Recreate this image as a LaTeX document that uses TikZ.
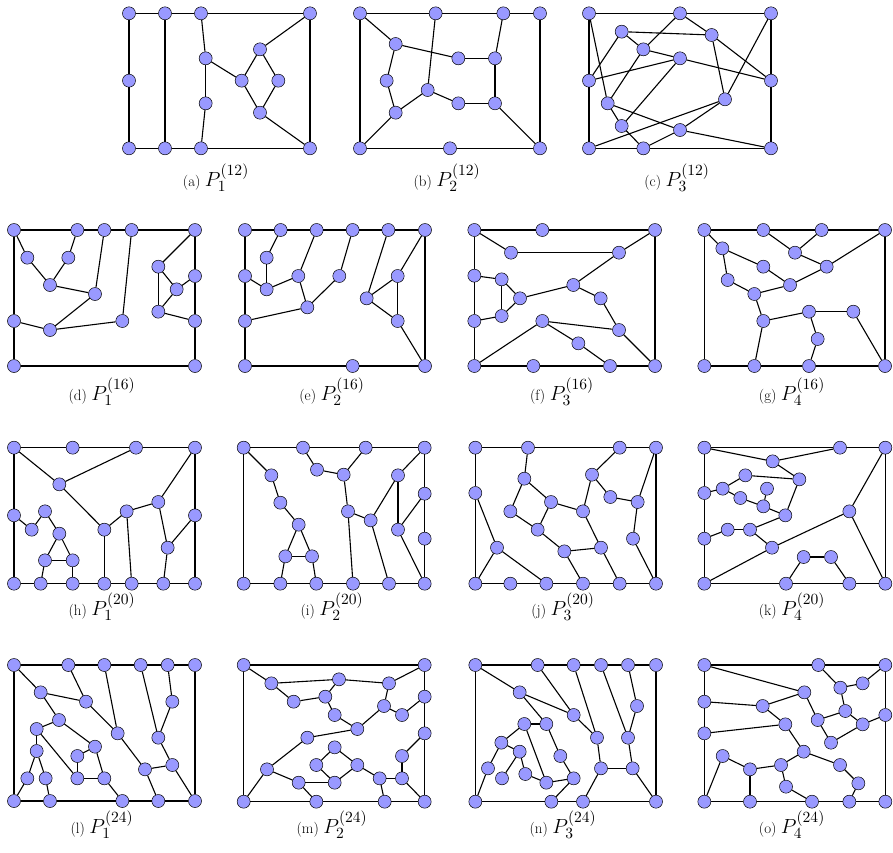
\documentclass[tikz,border=0pt]{standalone}
\definecolor{vfill}{RGB}{153,153,255}
\tikzset{
  vx/.style={circle,draw=black,fill=vfill,line width=0.5pt,minimum size=13pt,inner sep=0pt},
  ed/.style={line width=1.1pt},
  pnl/.style={x=0.33333pt,y=-0.33333pt},
  captxt/.style={anchor=base,inner sep=0pt}
}
\newcommand\vtx[3]{\node[vx] (#1) at (#2,#3) {};}
\newcommand\edges[1]{\foreach \u/\w in {#1} {\draw[ed] (\u)--(\w);}}
\newcommand\capP[3]{\fontsize{15}{18}\selectfont(#1)\hspace{0.3em}\scalebox{1.42}{$P_{#2}^{(#3)}$}}
\begin{document}
\begin{tikzpicture}[x=1pt,y=-1pt]
\useasboundingbox (0,0) rectangle (893,852);
% ---------- (a)
\begin{scope}[shift={(115pt,0pt)},pnl]
\vtx{a1}{42}{40}\vtx{a2}{150}{40}\vtx{a3}{258}{40}\vtx{a4}{585}{40}
\vtx{a5}{42}{242}\vtx{a6}{42}{445}\vtx{a7}{150}{445}\vtx{a8}{258}{445}\vtx{a9}{585}{445}
\vtx{a10}{272}{175}\vtx{a11}{272}{310}\vtx{a12}{380}{242}\vtx{a13}{435}{148}\vtx{a14}{490}{242}\vtx{a15}{435}{338}
\edges{a1/a2,a2/a3,a3/a4,a4/a9,a9/a8,a8/a7,a7/a6,a6/a5,a5/a1,a2/a7,a3/a10,a10/a11,a11/a8,a10/a12,a12/a13,a12/a15,a13/a14,a14/a15,a13/a4,a15/a9}
\end{scope}
% ---------- (b)
\begin{scope}[shift={(115pt,0pt)},pnl]
\vtx{b1}{735}{40}\vtx{b2}{962}{40}\vtx{b3}{1165}{40}\vtx{b4}{1275}{40}
\vtx{b5}{735}{445}\vtx{b6}{1005}{445}\vtx{b7}{1275}{445}
\vtx{b8}{842}{132}\vtx{b9}{815}{242}\vtx{b10}{842}{338}\vtx{b11}{938}{270}
\vtx{b12}{1030}{175}\vtx{b13}{1140}{175}\vtx{b14}{1030}{310}\vtx{b15}{1140}{310}
\edges{b1/b2,b2/b3,b3/b4,b4/b7,b7/b6,b6/b5,b5/b1,b1/b8,b8/b9,b9/b10,b10/b5,b8/b12,b12/b13,b13/b3,b13/b15,b2/b11,b10/b11,b11/b14,b14/b15,b15/b7}
\end{scope}
% ---------- (c)
\begin{scope}[shift={(575pt,0pt)},pnl]
\vtx{c1}{42}{40}\vtx{c2}{315}{40}\vtx{c3}{588}{40}\vtx{c4}{42}{242}\vtx{c5}{588}{242}
\vtx{c6}{42}{445}\vtx{c7}{205}{445}\vtx{c8}{588}{445}
\vtx{c9}{140}{95}\vtx{c10}{410}{105}\vtx{c11}{205}{148}\vtx{c12}{315}{175}
\vtx{c13}{98}{310}\vtx{c14}{450}{298}\vtx{c15}{140}{378}\vtx{c16}{315}{390}
\edges{c1/c2,c2/c3,c3/c5,c5/c8,c8/c7,c7/c6,c6/c4,c4/c1,c1/c13,c9/c10,c9/c4,c9/c11,c11/c2,c11/c13,c11/c12,c12/c5,c4/c12,c12/c15,c2/c10,c10/c5,c10/c14,c14/c3,c14/c6,c14/c16,c16/c7,c13/c16,c16/c8,c13/c15,c15/c7}
\end{scope}
% ---------- (d)
\begin{scope}[shift={(0pt,-215pt)},pnl]
\vtx{d1}{42}{45}\vtx{d2}{232}{45}\vtx{d3}{313}{45}\vtx{d4}{395}{45}\vtx{d5}{585}{45}
\vtx{d6}{42}{318}\vtx{d7}{585}{183}\vtx{d8}{585}{318}\vtx{d9}{42}{453}\vtx{d10}{585}{453}
\vtx{d11}{82}{128}\vtx{d12}{205}{128}\vtx{d13}{150}{210}\vtx{d14}{285}{237}\vtx{d15}{150}{345}
\vtx{d16}{367}{318}\vtx{d17}{475}{155}\vtx{d18}{530}{223}\vtx{d19}{475}{290}
\edges{d1/d2,d2/d3,d3/d4,d4/d5,d5/d7,d7/d8,d8/d10,d10/d9,d9/d6,d6/d1,d1/d11,d11/d13,d13/d12,d12/d2,d13/d14,d14/d3,d14/d15,d15/d6,d15/d16,d16/d4,d5/d17,d17/d19,d17/d18,d18/d7,d18/d19,d19/d8}
\end{scope}
% ---------- (e)
\begin{scope}[shift={(0pt,-215pt)},pnl]
\vtx{e1}{735}{45}\vtx{e2}{842}{45}\vtx{e3}{950}{45}\vtx{e4}{1058}{45}\vtx{e5}{1165}{45}\vtx{e6}{1275}{45}
\vtx{e7}{735}{183}\vtx{e8}{735}{318}\vtx{e9}{735}{453}\vtx{e10}{1058}{453}\vtx{e11}{1275}{453}
\vtx{e12}{800}{128}\vtx{e13}{800}{223}\vtx{e14}{895}{183}\vtx{e15}{1018}{183}\vtx{e16}{922}{277}
\vtx{e17}{1100}{250}\vtx{e18}{1193}{183}\vtx{e19}{1193}{318}
\edges{e1/e2,e2/e3,e3/e4,e4/e5,e5/e6,e6/e11,e11/e10,e10/e9,e9/e8,e8/e7,e7/e1,e2/e12,e12/e13,e7/e13,e13/e14,e14/e3,e14/e16,e16/e15,e15/e4,e16/e8,e5/e17,e17/e18,e17/e19,e18/e19,e18/e6,e19/e11}
\end{scope}
% ---------- (f)
\begin{scope}[shift={(455pt,-215pt)},pnl]
\vtx{f1}{58}{45}\vtx{f2}{262}{45}\vtx{f3}{600}{45}\vtx{f4}{58}{182}\vtx{f5}{58}{318}
\vtx{f6}{58}{453}\vtx{f7}{235}{453}\vtx{f8}{465}{453}\vtx{f9}{600}{453}
\vtx{f10}{168}{113}\vtx{f11}{492}{113}\vtx{f12}{140}{193}\vtx{f13}{195}{250}\vtx{f14}{140}{303}
\vtx{f15}{355}{210}\vtx{f16}{437}{250}\vtx{f17}{262}{318}\vtx{f18}{492}{345}\vtx{f19}{370}{385}
\edges{f1/f2,f2/f3,f3/f9,f9/f8,f8/f7,f7/f6,f6/f5,f5/f4,f4/f1,f1/f10,f10/f11,f11/f3,f11/f15,f15/f13,f15/f16,f16/f18,f18/f9,f17/f18,f17/f19,f19/f8,f17/f6,f4/f12,f12/f13,f12/f14,f13/f14,f14/f5}
\end{scope}
% ---------- (g)
\begin{scope}[shift={(455pt,-215pt)},pnl]
\vtx{g1}{748}{45}\vtx{g2}{925}{45}\vtx{g3}{1100}{45}\vtx{g4}{1290}{45}
\vtx{g5}{748}{453}\vtx{g6}{898}{453}\vtx{g7}{1062}{453}\vtx{g8}{1290}{453}
\vtx{g9}{802}{100}\vtx{g10}{1020}{113}\vtx{g11}{925}{155}\vtx{g12}{1115}{155}\vtx{g13}{818}{195}
\vtx{g14}{1005}{210}\vtx{g15}{898}{237}\vtx{g16}{925}{318}\vtx{g17}{1062}{290}\vtx{g18}{1195}{290}\vtx{g19}{1088}{372}
\edges{g1/g2,g2/g3,g3/g4,g4/g8,g8/g7,g7/g6,g6/g5,g5/g1,g1/g9,g9/g11,g11/g14,g14/g12,g12/g4,g12/g10,g10/g2,g10/g3,g9/g13,g13/g15,g15/g14,g15/g16,g16/g17,g16/g6,g17/g18,g18/g8,g17/g19,g19/g7}
\end{scope}
% ---------- (h)
\begin{scope}[shift={(0pt,-432pt)},pnl]
\vtx{h1}{42}{47}\vtx{h2}{218}{47}\vtx{h3}{408}{47}\vtx{h4}{585}{47}\vtx{h5}{42}{250}\vtx{h6}{585}{250}
\vtx{h7}{42}{455}\vtx{h8}{122}{455}\vtx{h9}{218}{455}\vtx{h10}{313}{455}\vtx{h11}{395}{455}\vtx{h12}{490}{455}\vtx{h13}{585}{455}
\vtx{h14}{178}{157}\vtx{h15}{95}{293}\vtx{h16}{135}{238}\vtx{h17}{178}{305}\vtx{h18}{135}{385}\vtx{h19}{218}{385}
\vtx{h20}{313}{293}\vtx{h21}{380}{238}\vtx{h22}{475}{210}\vtx{h23}{503}{347}
\edges{h1/h2,h2/h3,h3/h4,h4/h6,h6/h13,h13/h12,h12/h11,h11/h10,h10/h9,h9/h8,h8/h7,h7/h5,h5/h1,h1/h14,h14/h3,h14/h20,h20/h10,h20/h21,h21/h11,h21/h22,h22/h4,h22/h23,h23/h6,h23/h12,h5/h15,h15/h16,h16/h17,h17/h18,h17/h19,h18/h19,h18/h8,h19/h9}
\end{scope}
% ---------- (i)
\begin{scope}[shift={(228pt,-432pt)},pnl]
\vtx{i1}{47}{47}\vtx{i2}{225}{47}\vtx{i3}{413}{47}\vtx{i4}{590}{47}\vtx{i5}{590}{185}\vtx{i6}{590}{320}
\vtx{i7}{47}{455}\vtx{i8}{157}{455}\vtx{i9}{265}{455}\vtx{i10}{375}{455}\vtx{i11}{483}{455}\vtx{i12}{590}{455}
\vtx{i13}{130}{130}\vtx{i14}{157}{212}\vtx{i15}{212}{278}\vtx{i16}{172}{373}\vtx{i17}{252}{373}
\vtx{i18}{267}{113}\vtx{i19}{347}{128}\vtx{i20}{360}{238}\vtx{i21}{428}{265}\vtx{i22}{510}{130}\vtx{i23}{510}{293}
\edges{i1/i2,i2/i3,i3/i4,i4/i5,i5/i6,i6/i12,i12/i11,i11/i10,i10/i9,i9/i8,i8/i7,i7/i1,i1/i13,i13/i14,i14/i15,i15/i16,i15/i17,i16/i17,i16/i8,i17/i9,i2/i18,i18/i19,i19/i3,i19/i20,i20/i10,i20/i21,i21/i22,i21/i11,i22/i4,i22/i23,i23/i5,i23/i12}
\end{scope}
% ---------- (j)
\begin{scope}[shift={(457pt,-432pt)},pnl]
\vtx{j1}{55}{47}\vtx{j2}{213}{47}\vtx{j3}{488}{47}\vtx{j4}{597}{47}\vtx{j5}{55}{183}
\vtx{j6}{55}{455}\vtx{j7}{160}{455}\vtx{j8}{268}{455}\vtx{j9}{378}{455}\vtx{j10}{488}{455}\vtx{j11}{597}{455}
\vtx{j12}{202}{140}\vtx{j13}{160}{238}\vtx{j14}{282}{210}\vtx{j15}{242}{293}\vtx{j16}{378}{238}\vtx{j17}{405}{128}
\vtx{j18}{460}{195}\vtx{j19}{542}{210}\vtx{j20}{528}{320}\vtx{j21}{322}{358}\vtx{j22}{432}{347}\vtx{j23}{120}{347}
\edges{j1/j2,j2/j3,j3/j4,j4/j11,j11/j10,j10/j9,j9/j8,j8/j7,j7/j6,j6/j5,j5/j1,j2/j12,j12/j13,j12/j14,j13/j15,j14/j15,j14/j16,j16/j17,j17/j3,j17/j18,j18/j19,j19/j4,j19/j20,j20/j11,j15/j21,j21/j22,j21/j9,j16/j22,j22/j10,j5/j23,j23/j6,j23/j8}
\end{scope}
% ---------- (k)
\begin{scope}[shift={(686pt,-432pt)},pnl]
\vtx{k1}{55}{47}\vtx{k2}{462}{47}\vtx{k3}{598}{47}\vtx{k4}{55}{183}\vtx{k5}{55}{320}
\vtx{k6}{55}{455}\vtx{k7}{300}{455}\vtx{k8}{490}{455}\vtx{k9}{598}{455}
\vtx{k10}{260}{88}\vtx{k11}{340}{142}\vtx{k12}{178}{130}\vtx{k13}{110}{170}\vtx{k14}{243}{170}
\vtx{k15}{163}{198}\vtx{k16}{232}{223}\vtx{k17}{298}{250}\vtx{k18}{125}{293}\vtx{k19}{192}{293}
\vtx{k20}{258}{347}\vtx{k21}{490}{238}\vtx{k22}{353}{375}\vtx{k23}{435}{375}
\edges{k1/k2,k2/k3,k3/k9,k9/k8,k8/k7,k7/k6,k6/k5,k5/k4,k4/k1,k1/k10,k10/k2,k10/k11,k11/k12,k12/k13,k13/k4,k13/k15,k15/k16,k16/k14,k16/k17,k17/k11,k17/k19,k19/k18,k18/k5,k19/k20,k20/k6,k20/k21,k21/k3,k21/k9,k7/k22,k22/k23,k23/k8}
\end{scope}
% ---------- (l)
\begin{scope}[shift={(0pt,-650pt)},pnl]
\vtx{l1}{42}{45}\vtx{l2}{205}{45}\vtx{l3}{313}{45}\vtx{l4}{422}{45}\vtx{l5}{503}{45}\vtx{l6}{585}{45}
\vtx{l7}{42}{453}\vtx{l8}{150}{453}\vtx{l9}{367}{453}\vtx{l10}{475}{453}\vtx{l11}{585}{453}
\vtx{l12}{122}{127}\vtx{l13}{258}{155}\vtx{l14}{177}{210}\vtx{l15}{110}{237}\vtx{l16}{110}{303}
\vtx{l17}{82}{385}\vtx{l18}{137}{385}\vtx{l19}{285}{290}\vtx{l20}{232}{318}\vtx{l21}{232}{385}\vtx{l22}{313}{385}
\vtx{l23}{353}{250}\vtx{l24}{517}{155}\vtx{l25}{475}{263}\vtx{l26}{517}{345}\vtx{l27}{435}{358}
\edges{l1/l2,l2/l3,l3/l4,l4/l5,l5/l6,l6/l11,l11/l10,l10/l9,l9/l8,l8/l7,l7/l1,l1/l12,l12/l13,l13/l2,l12/l14,l14/l15,l14/l19,l15/l16,l15/l21,l16/l17,l16/l18,l17/l7,l18/l8,l19/l20,l19/l22,l20/l21,l21/l22,l22/l9,l13/l23,l23/l3,l23/l27,l27/l10,l27/l26,l26/l11,l26/l25,l25/l4,l25/l24,l24/l5}
\end{scope}
% ---------- (m)
\begin{scope}[shift={(228pt,-650pt)},pnl]
\vtx{m1}{47}{45}\vtx{m2}{590}{45}\vtx{m3}{590}{140}\vtx{m4}{590}{250}
\vtx{m5}{47}{455}\vtx{m6}{265}{455}\vtx{m7}{470}{455}\vtx{m8}{590}{455}
\vtx{m9}{130}{100}\vtx{m10}{333}{88}\vtx{m11}{483}{100}\vtx{m12}{197}{155}\vtx{m13}{292}{140}
\vtx{m14}{320}{195}\vtx{m15}{388}{237}\vtx{m16}{468}{168}\vtx{m17}{522}{195}\vtx{m18}{238}{263}
\vtx{m19}{320}{292}\vtx{m20}{265}{345}\vtx{m21}{388}{345}\vtx{m22}{320}{398}\vtx{m23}{117}{358}
\vtx{m24}{212}{398}\vtx{m25}{455}{385}\vtx{m26}{522}{385}\vtx{m27}{522}{318}
\edges{m1/m2,m2/m3,m3/m4,m4/m8,m8/m7,m7/m6,m6/m5,m5/m1,m1/m9,m9/m10,m10/m11,m11/m2,m9/m12,m12/m13,m13/m10,m13/m14,m14/m15,m15/m16,m16/m11,m16/m17,m17/m3,m15/m18,m18/m23,m19/m20,m19/m21,m20/m22,m21/m22,m23/m5,m23/m24,m24/m22,m24/m6,m21/m25,m25/m26,m25/m7,m26/m27,m27/m4,m26/m8}
\end{scope}
% ---------- (n)
\begin{scope}[shift={(457pt,-650pt)},pnl]
\vtx{n1}{55}{45}\vtx{n2}{242}{45}\vtx{n3}{350}{45}\vtx{n4}{432}{45}\vtx{n5}{513}{45}\vtx{n6}{597}{45}
\vtx{n7}{55}{455}\vtx{n8}{283}{455}\vtx{n9}{378}{455}\vtx{n10}{597}{455}
\vtx{n11}{188}{127}\vtx{n12}{350}{195}\vtx{n13}{420}{263}\vtx{n14}{540}{168}\vtx{n15}{513}{263}
\vtx{n16}{432}{355}\vtx{n17}{527}{355}\vtx{n18}{202}{222}\vtx{n19}{268}{222}\vtx{n20}{133}{278}
\vtx{n21}{188}{305}\vtx{n22}{310}{318}\vtx{n23}{93}{355}\vtx{n24}{135}{385}\vtx{n25}{205}{372}
\vtx{n26}{268}{398}\vtx{n27}{350}{385}
\edges{n1/n2,n2/n3,n3/n4,n4/n5,n5/n6,n6/n10,n10/n9,n9/n8,n8/n7,n7/n1,n1/n11,n11/n12,n11/n19,n2/n12,n12/n13,n3/n13,n13/n16,n16/n9,n16/n17,n17/n10,n17/n15,n15/n4,n15/n14,n14/n5,n18/n19,n18/n20,n18/n26,n19/n22,n22/n27,n27/n26,n27/n8,n20/n23,n20/n21,n21/n24,n21/n25,n25/n26,n23/n7}
\end{scope}
% ---------- (o)
\begin{scope}[shift={(686pt,-650pt)},pnl]
\vtx{o1}{55}{45}\vtx{o2}{397}{45}\vtx{o3}{598}{45}\vtx{o4}{55}{155}\vtx{o5}{55}{250}\vtx{o6}{598}{195}
\vtx{o7}{55}{455}\vtx{o8}{192}{455}\vtx{o9}{378}{455}\vtx{o10}{490}{455}\vtx{o11}{598}{455}
\vtx{o12}{355}{127}\vtx{o13}{463}{113}\vtx{o14}{530}{100}\vtx{o15}{230}{168}\vtx{o16}{298}{223}
\vtx{o17}{395}{210}\vtx{o18}{478}{183}\vtx{o19}{530}{223}\vtx{o20}{435}{278}\vtx{o21}{353}{305}
\vtx{o22}{110}{318}\vtx{o23}{192}{358}\vtx{o24}{285}{345}\vtx{o25}{462}{345}\vtx{o26}{300}{410}\vtx{o27}{517}{400}
\edges{o1/o2,o2/o3,o3/o6,o6/o11,o11/o10,o10/o9,o9/o8,o8/o7,o7/o5,o5/o4,o4/o1,o1/o12,o2/o13,o13/o14,o14/o3,o13/o18,o12/o17,o12/o15,o15/o4,o15/o16,o16/o5,o16/o21,o17/o18,o17/o20,o18/o19,o19/o6,o19/o20,o21/o24,o21/o25,o24/o23,o24/o26,o26/o9,o23/o22,o23/o8,o22/o7,o25/o27,o27/o10}
\end{scope}
% ---------- captions
\node[captxt] (ca) at (216,186) {\capP{a}{1}{12}};
\node[captxt] (cb) at (447,186) {\capP{b}{2}{12}};
\node[captxt] (cc) at (677,186) {\capP{c}{3}{12}};
\node[captxt] (cd) at (102,400) {\capP{d}{1}{16}};
\node[captxt] (ce) at (332,400) {\capP{e}{2}{16}};
\node[captxt] (cf) at (562,400) {\capP{f}{3}{16}};
\node[captxt] (cg) at (792,400) {\capP{g}{4}{16}};
\node[captxt] (ch) at (102,615) {\capP{h}{1}{20}};
\node[captxt] (ci) at (332,615) {\capP{i}{2}{20}};
\node[captxt] (cj) at (563,615) {\capP{j}{3}{20}};
\node[captxt] (ck) at (792,615) {\capP{k}{4}{20}};
\node[captxt] (cl) at (102,833) {\capP{l}{1}{24}};
\node[captxt] (cm) at (332,833) {\capP{m}{2}{24}};
\node[captxt] (cn) at (563,833) {\capP{n}{3}{24}};
\node[captxt] (co) at (792,833) {\capP{o}{4}{24}};
\end{tikzpicture}
\end{document}
